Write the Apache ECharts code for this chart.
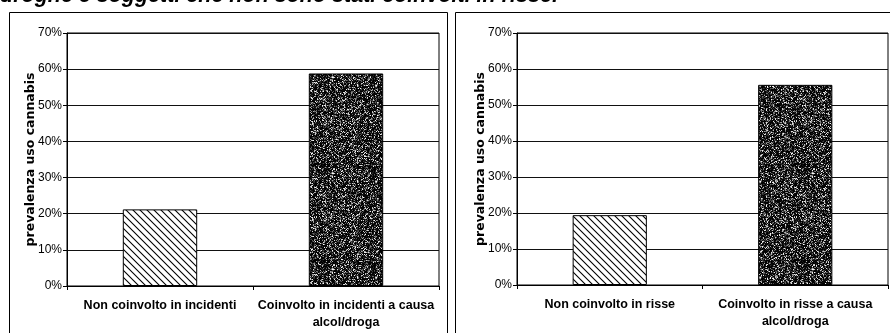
<!DOCTYPE html>
<html>
<head>
<meta charset="utf-8">
<script src="https://cdn.jsdelivr.net/npm/echarts@6/dist/echarts.min.js"></script>
<style>
  html, body { margin: 0; padding: 0; background: #fff; }
  #chart { width: 890px; height: 333px; }
</style>
</head>
<body>
<div id="chart"></div>
<script>
// Caption line above the two panels
const titleText = 'droghe e soggetti che non sono stati coinvolti in risse.';
const yAxisTitle = 'prevalenza uso cannabis';

// Y axis: 0%..70% in steps of 10%
const yMin = 0;
const yMax = 70;
const yStep = 10;

// Panel 1: road incidents
const incidentCategories = ['Non coinvolto in incidenti', 'Coinvolto in incidenti a causa\nalcol/droga'];
const incidentValues = [21.2, 58.8];

// Panel 2: fights
const fightCategories = ['Non coinvolto in risse', 'Coinvolto in risse a causa\nalcol/droga'];
const fightValues = [19.4, 55.6];

// Diagonal hatch fill ("\\\" direction)
function makeHatch() {
  const s = 7;
  const c = document.createElement('canvas');
  c.width = s; c.height = s;
  const g = c.getContext('2d');
  g.fillStyle = '#fff';
  g.fillRect(0, 0, s, s);
  g.strokeStyle = '#000';
  g.lineWidth = 1.1;
  g.beginPath();
  g.moveTo(-s, 0); g.lineTo(s, 2 * s);
  g.moveTo(0, 0); g.lineTo(s, s);
  g.moveTo(0, -s); g.lineTo(2 * s, s);
  g.stroke();
  return c;
}

// Dark speckled fill (deterministic grain)
function makeGrain() {
  const s = 96;
  const c = document.createElement('canvas');
  c.width = s; c.height = s;
  const g = c.getContext('2d');
  const img = g.createImageData(s, s);
  let seed = 12345;
  const rnd = () => { seed = (seed * 1103515245 + 12345) & 0x7fffffff; return seed / 0x7fffffff; };
  for (let i = 0; i < s * s; i++) {
    const r = rnd();
    const v = Math.round(255 * Math.pow(r, 3.6));
    img.data[i * 4] = v;
    img.data[i * 4 + 1] = v;
    img.data[i * 4 + 2] = v;
    img.data[i * 4 + 3] = 255;
  }
  g.putImageData(img, 0, 0);
  return c;
}

const hatch = makeHatch();
const grain = makeGrain();
const fills = [
  { image: hatch, repeat: 'repeat' },
  { image: grain, repeat: 'repeat' }
];

const tickFont = { fontFamily: 'Liberation Sans', fontSize: 12, color: '#000' };
const catFont = { fontFamily: 'Liberation Sans', fontSize: 12.5, fontWeight: 'bold', color: '#000', lineHeight: 17 };

function makeX(idx, cats) {
  return {
    type: 'category', gridIndex: idx, data: cats,
    axisLine: { lineStyle: { color: '#000', width: 1 } },
    axisTick: { show: true, length: 4, lineStyle: { color: '#000' } },
    axisLabel: Object.assign({ margin: 11, interval: 0 }, catFont)
  };
}
function makeY(idx) {
  return {
    type: 'value', gridIndex: idx, min: yMin, max: yMax, interval: yStep,
    name: yAxisTitle, nameLocation: 'middle', nameGap: 29.5, nameRotate: 90, nameMoveOverlap: false,
    nameTextStyle: { fontFamily: 'DejaVu Sans', fontSize: 12.5, fontWeight: 'bold', color: '#000' },
    axisLine: { show: true, lineStyle: { color: '#000', width: 1 } },
    axisTick: { show: true, length: 4, lineStyle: { color: '#000' } },
    axisLabel: Object.assign({ margin: 5, formatter: v => v + '%' }, tickFont),
    splitLine: { show: true, lineStyle: { color: '#111', width: 1 } }
  };
}
function makeBar(idx, values) {
  return {
    type: 'bar', xAxisIndex: idx, yAxisIndex: idx, barWidth: '40%',
    data: values.map((v, i) => ({ value: v, itemStyle: { color: fills[i] } })),
    itemStyle: { borderColor: '#000', borderWidth: 1 },
    silent: true
  };
}

const chart = echarts.init(document.getElementById('chart'), null, { renderer: 'canvas' });
chart.setOption({
  animation: false,
  backgroundColor: '#fff',
  graphic: [
    { type: 'rect', shape: { x: 9.5, y: 12.5, width: 438, height: 340 }, style: { fill: 'none', stroke: '#000', lineWidth: 1 }, z: 0 },
    { type: 'rect', shape: { x: 455.5, y: 12.5, width: 450, height: 340 }, style: { fill: 'none', stroke: '#000', lineWidth: 1 }, z: 0 },
    { type: 'text', x: 0, y: -4, style: { text: titleText, fontFamily: 'Liberation Sans', fontSize: 21.5, fontWeight: 'bold', fontStyle: 'italic', fill: '#000', verticalAlign: 'middle' } }
  ],
  grid: [
    { left: 67, right: 451, top: 33, bottom: 47, show: true, borderColor: '#000', borderWidth: 1, backgroundColor: 'transparent' },
    { left: 517, right: 2, top: 33, bottom: 48, show: true, borderColor: '#000', borderWidth: 1, backgroundColor: 'transparent' }
  ],
  xAxis: [makeX(0, incidentCategories), makeX(1, fightCategories)],
  yAxis: [makeY(0), makeY(1)],
  series: [makeBar(0, incidentValues), makeBar(1, fightValues)]
});
</script>
</body>
</html>
